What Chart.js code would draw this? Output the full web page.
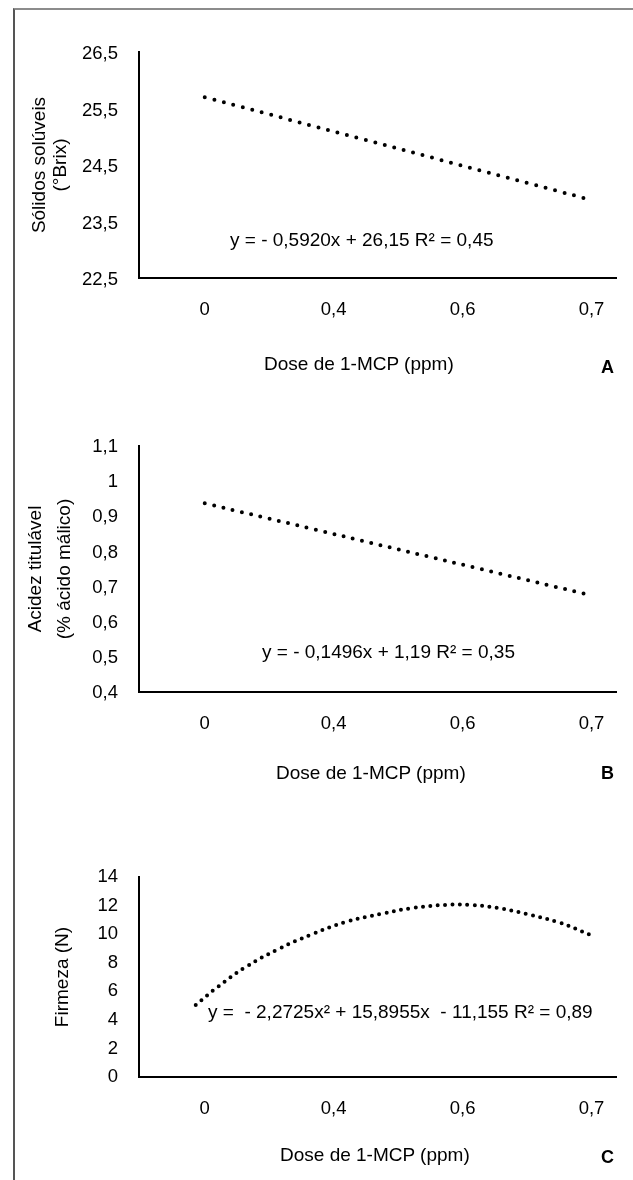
<!DOCTYPE html>
<html><head><meta charset="utf-8">
<script src="https://cdn.jsdelivr.net/npm/chart.js@4"></script>
<style>
html,body{margin:0;padding:0;background:#fff;}
body{width:633px;height:1180px;position:relative;overflow:hidden;font-family:'Liberation Sans',Arial,sans-serif;color:#000;}
.frame{position:absolute;left:13px;top:8px;right:-5px;bottom:-5px;border-left:2px solid #555;border-top:2px solid #8c8c8c;}
canvas{position:absolute;left:0;}
.t{position:absolute;font-size:19px;line-height:20px;white-space:pre;}
.lt{font-weight:bold;font-size:18px;}
</style></head><body>
<div class="frame"></div>
<canvas id="cA" width="633" height="380" style="top:0;width:633px;height:380px"></canvas>
<canvas id="cB" width="633" height="400" style="top:380px;width:633px;height:400px"></canvas>
<canvas id="cC" width="633" height="400" style="top:780px;width:633px;height:400px"></canvas>

<div class="t" style="left:230px;top:230px">y = - 0,5920x + 26,15 R² = 0,45</div>
<div class="t" style="left:264px;top:354px">Dose de 1-MCP (ppm)</div>
<div class="t lt" style="left:601px;top:357px">A</div>

<div class="t" style="left:262px;top:642px">y = - 0,1496x + 1,19 R² = 0,35</div>
<div class="t" style="left:276px;top:763px">Dose de 1-MCP (ppm)</div>
<div class="t lt" style="left:601px;top:763px">B</div>

<div class="t" style="left:208px;top:1002px">y =  - 2,2725x² + 15,8955x  - 11,155 R² = 0,89</div>
<div class="t" style="left:280px;top:1145px">Dose de 1-MCP (ppm)</div>
<div class="t lt" style="left:601px;top:1147px">C</div>

<script>
// ---- data ----
const xTickLabels = ['0', '0,4', '0,6', '0,7'];

// Panel A: Sólidos solúveis (°Brix) trend line
const solidosX = [0, 3];
const solidosY = [25.70, 23.88];

// Panel B: Acidez titulável trend line
const acidezX = [0, 2.975];
const acidezY = [0.937, 0.677];

// Panel C: Firmeza (N) polynomial trend line
const firmezaX = [-0.07, 0.10, 0.32, 0.57, 0.82, 1.09, 1.37, 1.62, 1.87, 2.06, 2.27, 2.49, 2.74, 2.99];
const firmezaY = [5.04, 6.30, 7.71, 8.95, 9.95, 10.84, 11.42, 11.84, 12.05, 12.05, 11.84, 11.42, 10.84, 9.96];

Chart.defaults.font.family = "'Liberation Sans', Arial, sans-serif";
Chart.defaults.color = '#000';

function fmt(v) {
  const r = Math.round(v * 10) / 10;
  return String(r).replace('.', ',');
}

function makeChart(id, o) {
  return new Chart(document.getElementById(id), {
    type: 'line',
    data: {
      datasets: [{
        data: o.xs.map((x, i) => ({x: x, y: o.ys[i]})),
        borderColor: '#000',
        borderWidth: 4,
        borderDash: [0, o.dash],
        borderCapStyle: 'round',
        pointRadius: 0,
        tension: 0.4,
        fill: false
      }]
    },
    options: {
      responsive: false,
      animation: false,
      devicePixelRatio: 1,
      layout: {padding: {top: o.top, right: 17, bottom: 0, left: 0}},
      plugins: {legend: {display: false}, tooltip: {enabled: false}},
      scales: {
        x: {
          type: 'linear', min: -0.51, max: 3.19,
          grid: {display: false},
          border: {display: true, color: '#000', width: 2},
          afterBuildTicks: s => { s.ticks = xTickLabels.map((_, i) => ({value: i})); },
          ticks: {padding: 13, color: '#000', font: {size: 18.5}, maxRotation: 0, autoSkip: false,
                  callback: v => xTickLabels[v] !== undefined ? xTickLabels[v] : ''},
          afterFit: s => { s.height = o.canvasH - o.bottom; }
        },
        y: {
          type: 'linear', min: o.yMin, max: o.yMax,
          grid: {display: false},
          border: {display: true, color: '#000', width: 2},
          ticks: {stepSize: o.yStep, padding: 13, labelOffset: o.lo, color: '#000', font: {size: 18.5}, callback: fmt},
          title: {display: true, text: o.yTitle, color: '#000', font: {size: 19, lineHeight: o.tlh},
                  padding: {top: o.titlePad, bottom: 0}},
          afterFit: s => { s.width = 139; }
        }
      }
    }
  });
}

makeChart('cA', {xs: solidosX, ys: solidosY, yMin: 22.5, yMax: 26.5, yStep: 1, lo: 2,
  yTitle: ['Sólidos solúveis', '(°Brix)'], top: 52, bottom: 278, canvasH: 380, dash: 9.8, titlePad: 29.5, tlh: 1.1});
makeChart('cB', {xs: acidezX, ys: acidezY, yMin: 0.4, yMax: 1.1, yStep: 0.1, lo: 1,
  yTitle: ['Acidez titulável', '(% ácido málico)'], top: 66, bottom: 312, canvasH: 400, dash: 9.5, titlePad: 22, tlh: 1.5});
makeChart('cC', {xs: firmezaX, ys: firmezaY, yMin: 0, yMax: 14, yStep: 2, lo: 0,
  yTitle: 'Firmeza (N)', top: 97, bottom: 297, canvasH: 400, dash: 7.4, titlePad: 51, tlh: 1.2});
</script>
</body></html>
